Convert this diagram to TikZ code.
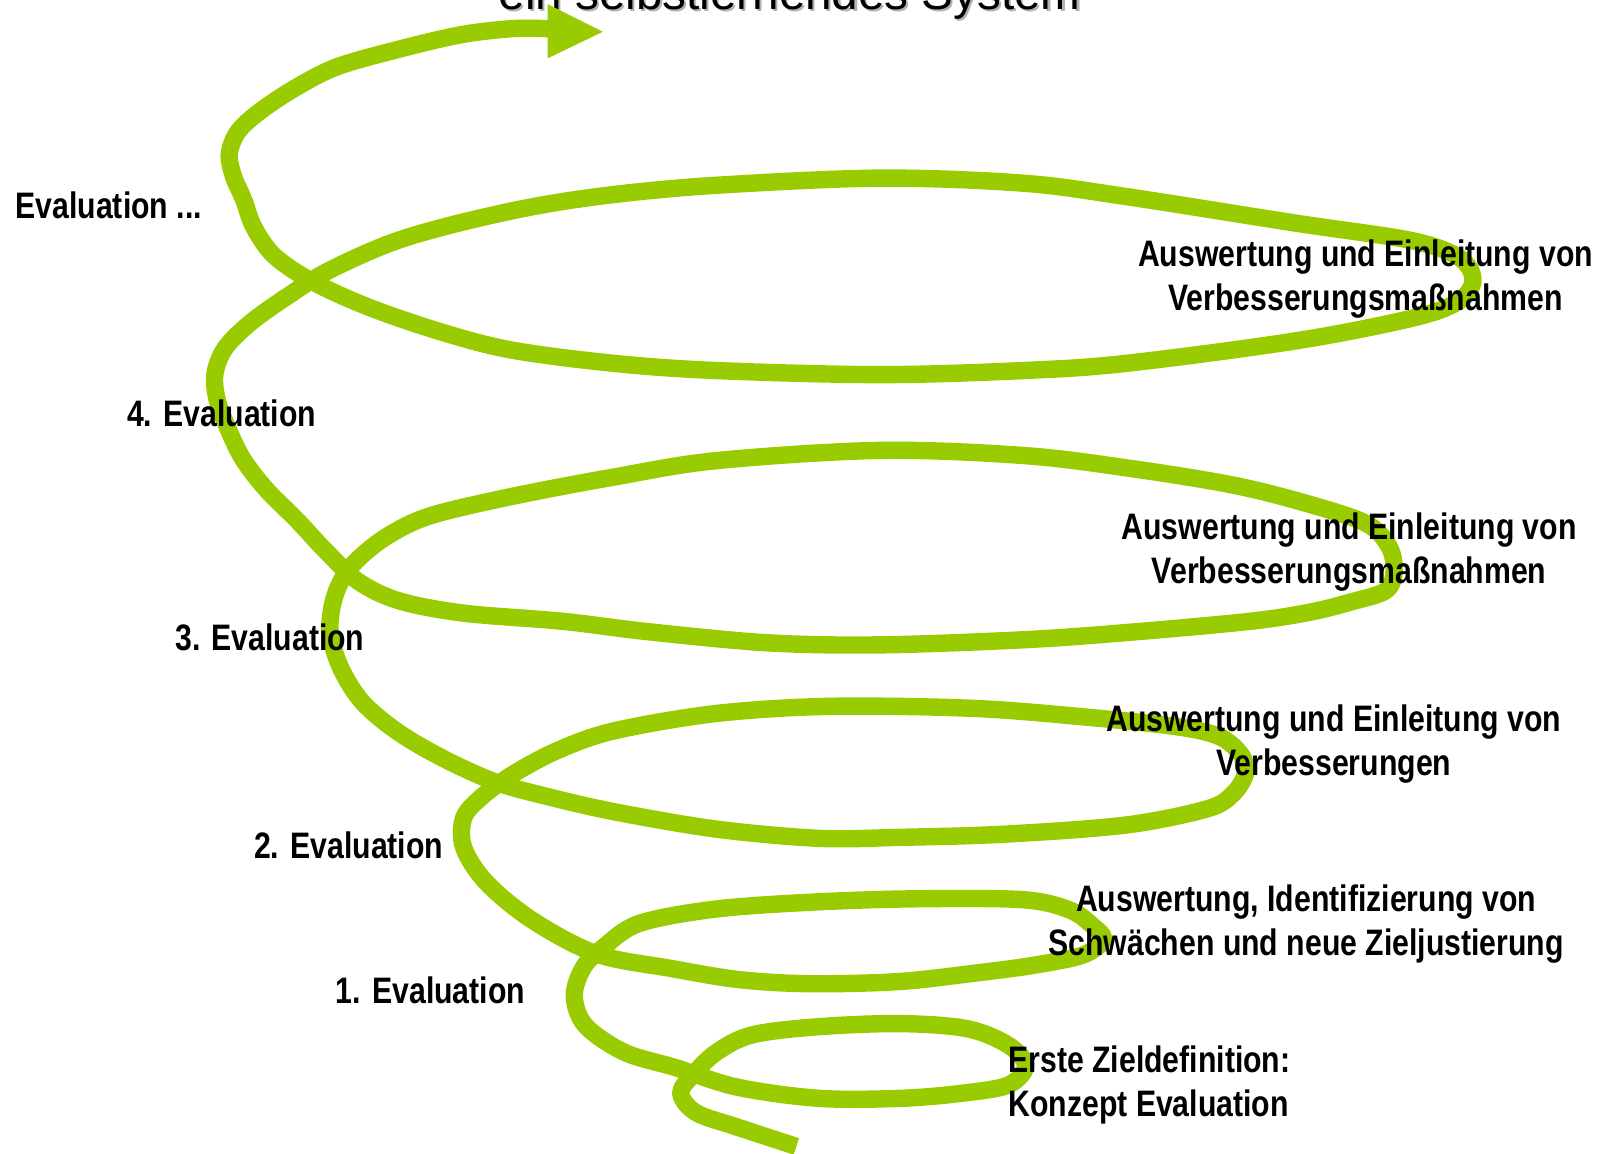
\documentclass[tikz,border=0pt]{standalone}
\usepackage{fontspec}
\setmainfont{Liberation Sans}
\newfontfamily\labelfont[FakeStretch=0.82]{Liberation Sans Bold}
\definecolor{spiralgreen}{RGB}{153,204,0}

\begin{document}
\begin{tikzpicture}[x=1pt, y=-1pt,
    spiral/.style={spiralgreen, line width=17pt, line join=round},
    evallabel/.style={font=\labelfont\fontsize{36}{43}\selectfont, inner sep=0pt, align=center},
    titletext/.style={font=\fontsize{46.5}{50}\selectfont, inner sep=0pt, anchor=base west}]
    \useasboundingbox (0,0) rectangle (1568,1127);

    % title, cut off at the top edge
    \node[titletext, gray!60] (titleshadow) at (489,11) {ein selbstlernendes System};
    \node[titletext] (title) at (487,9) {ein selbstlernendes System};

    % the spiral, from the inner end outwards
    \draw[spiral] plot[smooth, tension=0.55] coordinates {
        (778,1120) (720,1101) (680,1087) (665,1068) (677,1050) (700,1028) (735,1011)
        (800,1003) (880,1000) (945,1005) (985,1021) (1002,1041) (985,1060) (940,1068)
        (880,1073) (800,1073) (720,1062) (660,1043) (610,1028) (572,1002) (561,973)
        (570,945) (590,925) (625,902) (700,888) (800,881) (900,878) (1000,879)
        (1045,889) (1068,905) (1078,918) (1058,933) (1010,943) (950,951) (877,959)
        (790,961) (722,957) (655,946) (583,932) (520,899) (475,862) (453,828)
        (453,799) (470,779) (500,757) (545,733) (600,714) (700,697) (812,690)
        (950,692) (1055,700) (1150,710) (1192,720) (1213,738) (1217,755) (1205,775)
        (1180,790) (1100,806) (980,815) (880,818) (800,819) (700,810) (600,793)
        (530,777) (484,764) (435,742) (390,716) (355,687) (334,655) (323,622)
        (324,595) (332,570) (348,548) (378,524) (420,504) (500,485) (600,466)
        (700,450) (860,440) (1000,445) (1100,457) (1200,473) (1270,490) (1334,511)
        (1357,534) (1362,558) (1354,577) (1320,588) (1280,598) (1221,607) (1100,618)
        (1000,625) (860,630) (750,628) (632,617) (550,607) (453,599) (390,587)
        (350,568) (318,538) (290,508) (260,478) (237,448) (222,417) (212,390)
        (210,365) (220,340) (245,315) (280,290) (320,265) (380,238) (440,220)
        (520,202) (600,190) (700,181) (860,174) (1000,179) (1100,192) (1266,218)
        (1379,235) (1426,252) (1439,274) (1424,295) (1379,311) (1266,333) (1100,355)
        (1000,362) (860,366) (700,362) (600,355) (500,342) (430,324) (360,300)
        (305,275) (268,250) (248,222) (238,195) (228,172) (224,150) (233,128)
        (255,108) (290,85) (330,65) (390,48) (450,34) (500,28) (536,28)};
    \fill[spiralgreen] (535,4) -- (589,31) -- (535,57) -- cycle;

    % evaluations on the left
    \node[evallabel, anchor=west] (evalmore) at (15,201) {Evaluation ...};
    \node[evallabel, anchor=west] (evalfour) at (124,404) {4. Evaluation};
    \node[evallabel, anchor=west] (evalthree) at (171,623) {3. Evaluation};
    \node[evallabel, anchor=west] (evaltwo) at (248,826) {2. Evaluation};
    \node[evallabel, anchor=west] (evalone) at (328,967) {1. Evaluation};

    % steps on the right
    \node[evallabel] (stepfive) at (1334,273) {Auswertung und Einleitung von\\Verbesserungsmaßnahmen};
    \node[evallabel] (stepfour) at (1318,539) {Auswertung und Einleitung von\\Verbesserungsmaßnahmen};
    \node[evallabel] (stepthree) at (1303,727) {Auswertung und Einleitung von\\Verbesserungen};
    \node[evallabel] (steptwo) at (1276,903) {Auswertung, Identifizierung von\\Schwächen und neue Zieljustierung};
    \node[evallabel, align=left, anchor=west] (stepone) at (985,1060) {Erste Zieldefinition:\\Konzept Evaluation};
\end{tikzpicture}
\end{document}
